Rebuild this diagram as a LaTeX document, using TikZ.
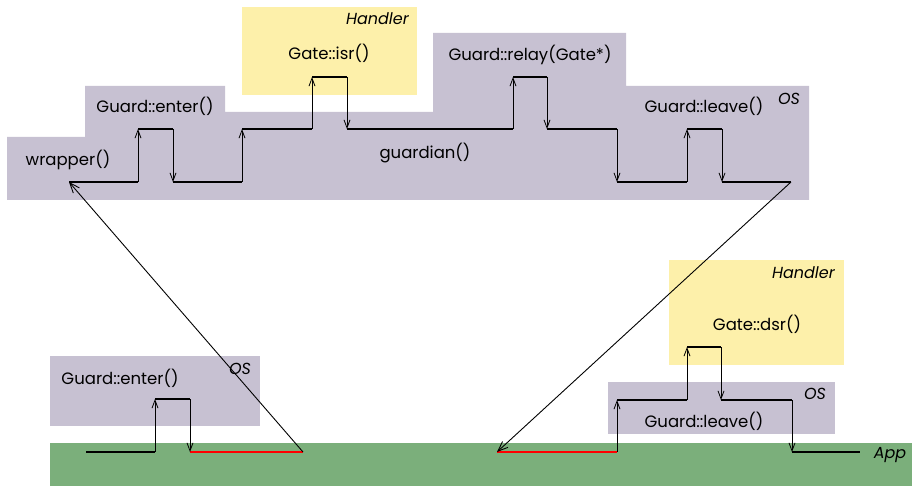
\documentclass[tikz,border=0pt]{standalone}
\usepackage{fontspec}
\setmainfont{Poppins}
\usetikzlibrary{arrows.meta}
\definecolor{oscol}{RGB}{199,193,210}
\definecolor{hdlcol}{RGB}{253,240,170}
\definecolor{appcol}{RGB}{123,175,123}
\tikzset{
  lbl/.style={font=\fontsize{16.5}{18}\selectfont, inner sep=0pt},
  itl/.style={font=\fontsize{16}{18}\selectfont\itshape, inner sep=0pt},
  lvl/.style={line width=2.5pt, line cap=butt},
  redlvl/.style={line width=2.5pt, red},
  call/.style={line width=0.8pt, -{Straight Barb[length=8pt,width=6pt]}},
  jump/.style={line width=0.9pt, -{Straight Barb[length=10pt,width=8pt]}}
}
\begin{document}
\begin{tikzpicture}[x=1pt,y=-1pt]
\useasboundingbox (0,0) rectangle (912,486);
% regions
\fill[oscol] (7,137) -- (85,137) -- (85,86) -- (225,86) -- (225,112) -- (433,112) -- (433,33) -- (626,33) -- (626,86) -- (809,86) -- (809,200) -- (7,200) -- cycle;
\fill[hdlcol] (242,7) rectangle (417,95);
\fill[oscol] (50,356) rectangle (260,426);
\fill[hdlcol] (669,260) rectangle (844,365);
\fill[oscol] (608,382) rectangle (835,434);
\fill[appcol] (50,443) rectangle (912,486);
% labels
\node[itl, anchor=east] (h1) at (409,19) {Handler};
\node[lbl] (isr) at (329,53) {Gate::isr()};
\node[lbl] (ge1) at (155,106) {Guard::enter()};
\node[lbl] (wr) at (68,160) {wrapper()};
\node[lbl] (gd) at (425,153) {guardian()};
\node[lbl] (rel) at (530,55) {Guard::relay(Gate*)};
\node[lbl] (gl1) at (704,106) {Guard::leave()};
\node[itl] (os1) at (789,99) {OS};
\node[itl] (os2) at (240,369) {OS};
\node[lbl] (ge2) at (120,378) {Guard::enter()};
\node[itl, anchor=east] (h2) at (835,273) {Handler};
\node[lbl] (dsr) at (757,324) {Gate::dsr()};
\node[itl] (os3) at (815,394) {OS};
\node[lbl] (gl2) at (704,421) {Guard::leave()};
\node[itl] (app) at (890,455) {App};
% top trace coordinates
\coordinate (t0) at (69,182);
\coordinate (t1) at (138,182); \coordinate (t2) at (138,129);
\coordinate (t3) at (173,129); \coordinate (t4) at (173,182);
\coordinate (t5) at (242,182); \coordinate (t6) at (242,129);
\coordinate (t7) at (312,129); \coordinate (t8) at (312,77);
\coordinate (t9) at (347,77);  \coordinate (t10) at (347,129);
\coordinate (t11) at (513,129); \coordinate (t12) at (513,77);
\coordinate (t13) at (547,77); \coordinate (t14) at (547,129);
\coordinate (t15) at (617,129); \coordinate (t16) at (617,182);
\coordinate (t17) at (687,182); \coordinate (t18) at (687,129);
\coordinate (t19) at (722,129); \coordinate (t20) at (722,182);
\coordinate (t21) at (791,182);
\draw[lvl] (t0) -- (t1);
\draw[lvl] (t2) -- (t3);
\draw[lvl] (t4) -- (t5);
\draw[lvl] (t6) -- (t7);
\draw[lvl] (t8) -- (t9);
\draw[lvl] (t10) -- (t11);
\draw[lvl] (t12) -- (t13);
\draw[lvl] (t14) -- (t15);
\draw[lvl] (t16) -- (t17);
\draw[lvl] (t18) -- (t19);
\draw[lvl] (t20) -- (t21);
\draw[call] (t1) -- (t2);
\draw[call] (t3) -- (t4);
\draw[call] (t5) -- (t6);
\draw[call] (t7) -- (t8);
\draw[call] (t9) -- (t10);
\draw[call] (t11) -- (t12);
\draw[call] (t13) -- (t14);
\draw[call] (t15) -- (t16);
\draw[call] (t17) -- (t18);
\draw[call] (t19) -- (t20);
% bottom left trace
\coordinate (l0) at (86,452);
\coordinate (l1) at (155,452); \coordinate (l2) at (155,399);
\coordinate (l3) at (190,399); \coordinate (l4) at (190,452);
\coordinate (l5) at (303,452);
\draw[lvl] (l0) -- (l1);
\draw[lvl] (l2) -- (l3);
\draw[redlvl] (l4) -- (l5);
\draw[call] (l1) -- (l2);
\draw[call] (l3) -- (l4);
% bottom right trace
\coordinate (r0) at (497,452);
\coordinate (r1) at (617,452); \coordinate (r2) at (617,400);
\coordinate (r3) at (687,400); \coordinate (r4) at (687,347);
\coordinate (r5) at (721,347); \coordinate (r6) at (721,400);
\coordinate (r7) at (792,400); \coordinate (r8) at (792,452);
\coordinate (r9) at (860,452);
\draw[redlvl] (r0) -- (r1);
\draw[lvl] (r2) -- (r3);
\draw[lvl] (r4) -- (r5);
\draw[lvl] (r6) -- (r7);
\draw[lvl] (r8) -- (r9);
\draw[call] (r1) -- (r2);
\draw[call] (r3) -- (r4);
\draw[call] (r5) -- (r6);
\draw[call] (r7) -- (r8);
% interrupt jumps
\draw[jump] (l5) -- (t0);
\draw[jump] (t21) -- (r0);
\end{tikzpicture}
\end{document}
